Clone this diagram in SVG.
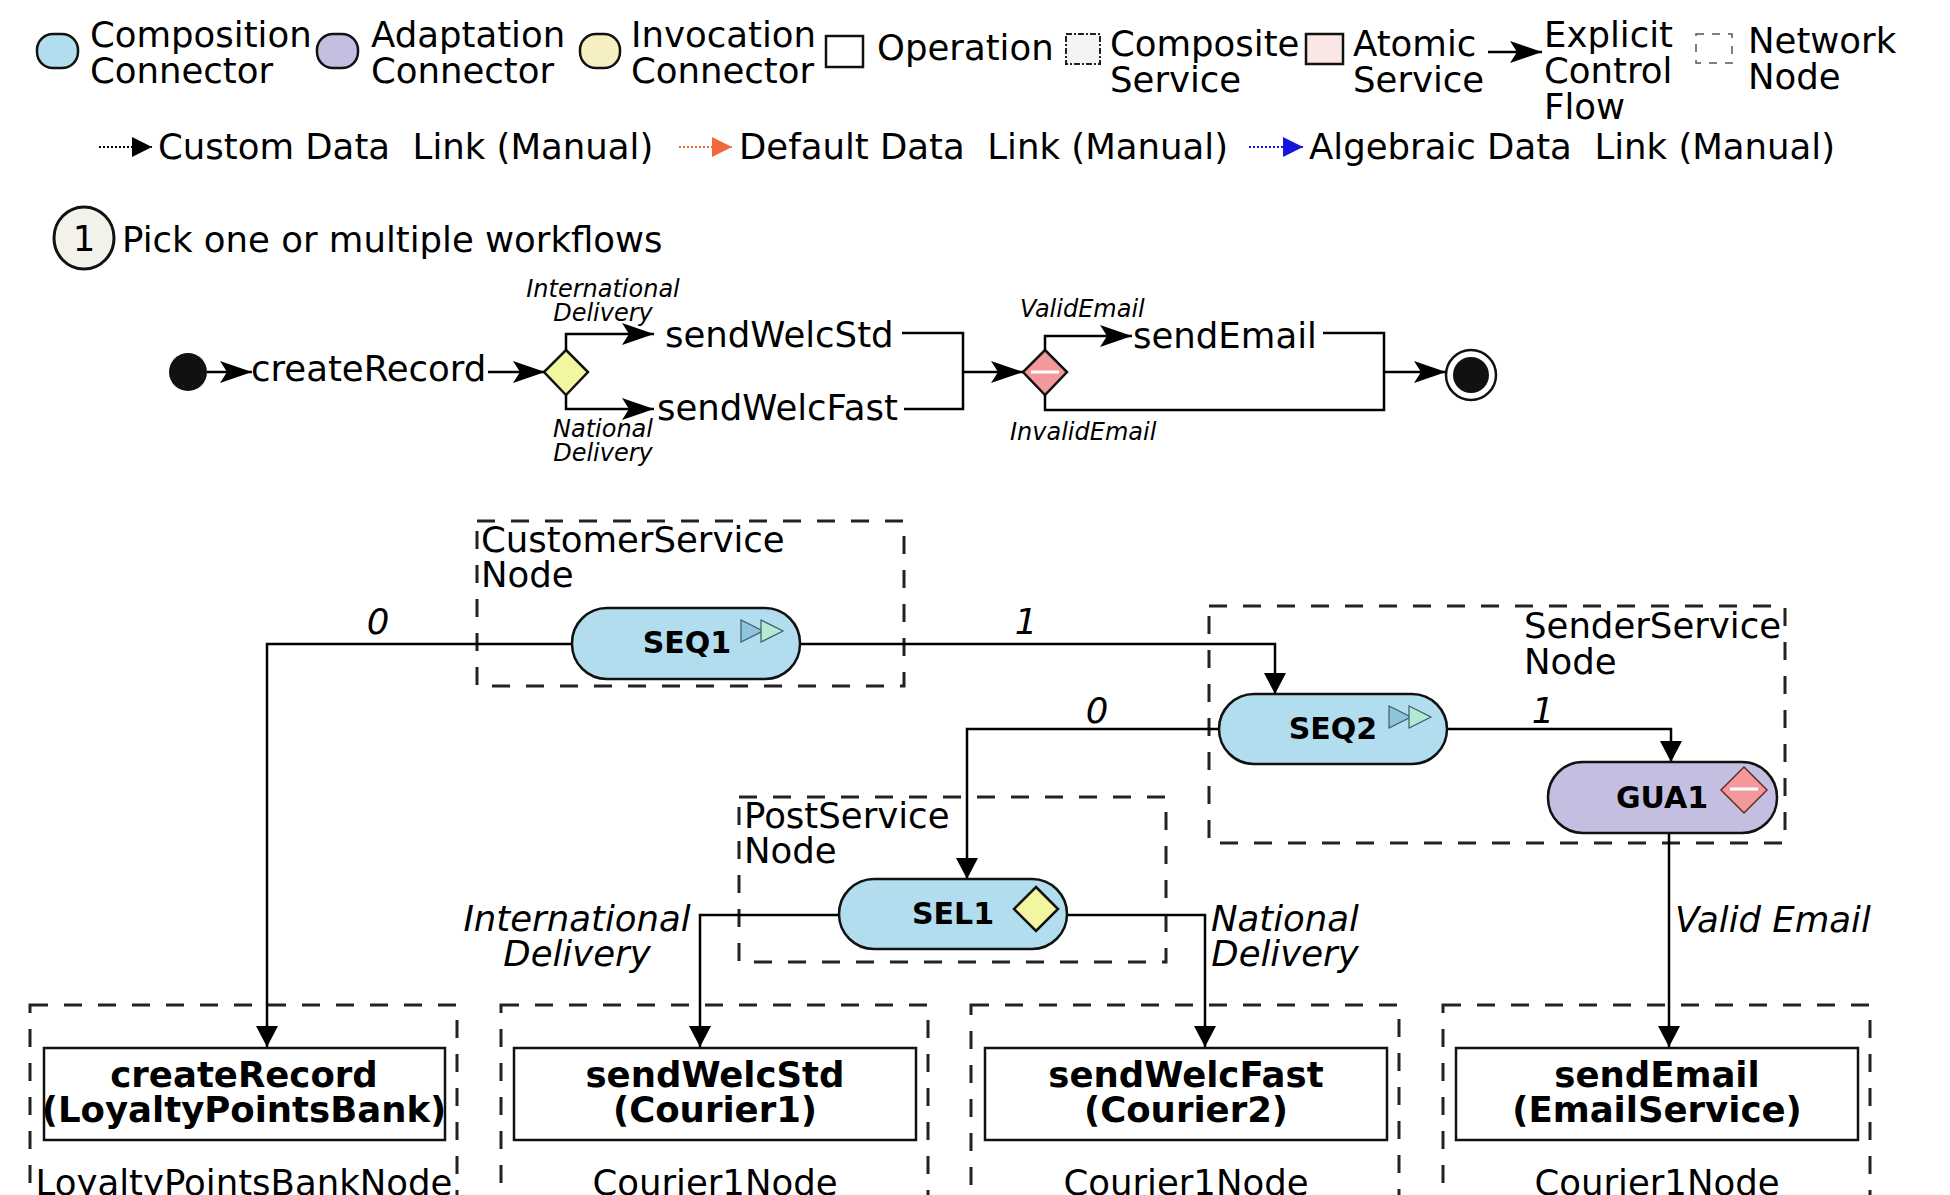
<svg xmlns="http://www.w3.org/2000/svg" width="1950" height="1195" viewBox="0 0 1950 1195">
  <style>
    text { font-family: "DejaVu Sans", "Liberation Sans", sans-serif; font-size: 35.5px; fill: #000; }
    .it { font-style: italic; }
    .small { font-size: 24px; font-style: italic; }
    .bold { font-weight: bold; }
    .pilltxt { font-weight: bold; font-size: 30px; text-anchor: middle; }
    .mid { text-anchor: middle; }
    .wire { fill: none; stroke: #000; stroke-width: 2.5; }
    .dwire { fill: none; stroke: #000; stroke-width: 2.5; marker-end: url(#dArrow); }
    .fwire { fill: none; stroke: #000; stroke-width: 2.5; marker-end: url(#flowArrow); }
    .netnode { fill: none; stroke: #222; stroke-width: 3; stroke-dasharray: 18 16; }
    .comp { fill: #b1ddef; stroke: #111; stroke-width: 2.5; }
    .adapt { fill: #c4bfe1; stroke: #111; stroke-width: 2.5; }
    .op { fill: #fff; stroke: #111; stroke-width: 2.5; }
    .sel { fill: #f1f69f; stroke: #111; stroke-width: 2.5; }
    .guard { fill: #f4999b; stroke: #111; stroke-width: 2.5; }
    .bar { stroke: #fff; stroke-width: 3; }
    .seqA { fill: #8cc5dc; stroke: #3f5a6a; stroke-width: 1.2; }
    .seqB { fill: #b3ead4; stroke: #3f5a6a; stroke-width: 1.2; }
  </style>
  <defs>
    <marker id="flowArrow" markerUnits="userSpaceOnUse" markerWidth="34" markerHeight="26" viewBox="0 -13 34 26" refX="32" refY="0" orient="auto">
      <path d="M0,-11 L32,0 L0,11 L7,0 Z" fill="#000"/>
    </marker>
    <marker id="dArrow" markerUnits="userSpaceOnUse" markerWidth="24" markerHeight="24" viewBox="0 -12 22 24" refX="21" refY="0" orient="auto">
      <path d="M0,-11 L21,0 L0,11 Z" fill="#000"/>
    </marker>
    <marker id="mkBlack" markerUnits="userSpaceOnUse" markerWidth="22" markerHeight="22" viewBox="0 -11 20 22" refX="20" refY="0" orient="auto">
      <path d="M0,-10 L20,0 L0,10 Z" fill="#000"/>
    </marker>
    <marker id="mkOrange" markerUnits="userSpaceOnUse" markerWidth="22" markerHeight="22" viewBox="0 -11 20 22" refX="20" refY="0" orient="auto">
      <path d="M0,-10 L20,0 L0,10 Z" fill="#f0693a"/>
    </marker>
    <marker id="mkBlue" markerUnits="userSpaceOnUse" markerWidth="22" markerHeight="22" viewBox="0 -11 20 22" refX="20" refY="0" orient="auto">
      <path d="M0,-10 L20,0 L0,10 Z" fill="#1616dc"/>
    </marker>
    <g id="seqIcon">
      <path class="seqA" d="M0,0 L22,11 L0,22 Z"/>
      <path class="seqB" d="M20,0 L42,11 L20,22 Z"/>
    </g>
  </defs>

  <!-- Legend -->
  <g id="legend">
    <rect class="comp" x="37" y="34" width="41" height="34" rx="16"/>
    <text x="90" y="47">Composition</text>
    <text x="90" y="83">Connector</text>

    <rect class="adapt" x="317" y="34" width="41" height="34" rx="16"/>
    <text x="371" y="47">Adaptation</text>
    <text x="371" y="83">Connector</text>

    <rect x="580" y="34" width="40" height="34" rx="16" fill="#f5efc2" stroke="#111" stroke-width="2.5"/>
    <text x="631" y="47">Invocation</text>
    <text x="631" y="83">Connector</text>

    <rect class="op" x="826" y="36" width="37" height="31"/>
    <text x="877" y="60">Operation</text>

    <rect x="1066" y="34" width="34" height="30" fill="#f2f4f6" stroke="#222" stroke-width="2" stroke-dasharray="6 2 2 2"/>
    <text x="1110" y="56">Composite</text>
    <text x="1110" y="92">Service</text>

    <rect x="1306" y="34" width="37" height="30" fill="#fbe6e6" stroke="#111" stroke-width="2.5"/>
    <text x="1353" y="56">Atomic</text>
    <text x="1353" y="92">Service</text>

    <path class="fwire" d="M1488,52 H1542"/>
    <text x="1544" y="47">Explicit</text>
    <text x="1544" y="83">Control</text>
    <text x="1544" y="119">Flow</text>

    <rect x="1696" y="34" width="36" height="29" fill="none" stroke="#555" stroke-width="1.5" stroke-dasharray="8 8"/>
    <text x="1748" y="53">Network</text>
    <text x="1748" y="89">Node</text>

    <path d="M99,147 H152" fill="none" stroke="#000" stroke-width="2" stroke-dasharray="2 2" marker-end="url(#mkBlack)"/>
    <text x="158" y="159">Custom Data&#160; Link (Manual)</text>

    <path d="M679,147 H732" fill="none" stroke="#f0693a" stroke-width="2" stroke-dasharray="2 2" marker-end="url(#mkOrange)"/>
    <text x="739" y="159">Default Data&#160; Link (Manual)</text>

    <path d="M1249,147 H1303" fill="none" stroke="#1616dc" stroke-width="2" stroke-dasharray="2 2" marker-end="url(#mkBlue)"/>
    <text x="1309" y="159">Algebraic Data&#160; Link (Manual)</text>
  </g>

  <!-- Step heading -->
  <g id="step1">
    <ellipse cx="84" cy="238" rx="30" ry="31" fill="#f2f1ea" stroke="#111" stroke-width="3"/>
    <text class="mid" x="84" y="251">1</text>
    <text x="122" y="252">Pick one or multiple workflows</text>
  </g>

  <!-- Workflow: nodes -->
  <g id="wf-start"><circle cx="188" cy="372" r="19" fill="#111"/></g>
  <g id="wf-createRecord"><text x="251" y="381">createRecord</text></g>
  <g id="wf-choice">
    <path class="sel" d="M566,350 L588,372 L566,395 L544,372 Z"/>
  </g>
  <g id="wf-sendWelcStd"><text x="665" y="347">sendWelcStd</text></g>
  <g id="wf-sendWelcFast"><text x="657" y="420">sendWelcFast</text></g>
  <g id="wf-guard">
    <path class="guard" d="M1045,350 L1067,372 L1045,395 L1023,372 Z"/>
    <line class="bar" x1="1031" y1="372" x2="1059" y2="372"/>
  </g>
  <g id="wf-sendEmail"><text x="1133" y="348">sendEmail</text></g>
  <g id="wf-end">
    <circle cx="1471" cy="375" r="25" fill="#fff" stroke="#111" stroke-width="2.5"/>
    <circle cx="1471" cy="375" r="18" fill="#111"/>
  </g>

  <!-- Workflow: control flow -->
  <g id="wf-connectors">
    <path class="fwire" d="M207,372 H252"/>
    <path class="fwire" d="M488,372 H545"/>
    <path class="fwire" d="M566,350 V334 H654"/>
    <path class="fwire" d="M566,395 V409 H654"/>
    <path class="wire" d="M902,333 H963 V409 H904"/>
    <path class="fwire" d="M963,372 H1023"/>
    <path class="fwire" d="M1045,350 V336 H1132"/>
    <path class="wire" d="M1323,333 H1384 V410 H1045 V395"/>
    <path class="fwire" d="M1384,372 H1446"/>
    <text class="small mid" x="603" y="297">International</text>
    <text class="small mid" x="603" y="321">Delivery</text>
    <text class="small mid" x="603" y="437">National</text>
    <text class="small mid" x="603" y="461">Delivery</text>
    <text class="small" x="1020" y="317">ValidEmail</text>
    <text class="small" x="1010" y="440">InvalidEmail</text>
  </g>

  <!-- Deployment: network nodes -->
  <g id="node-customerService">
    <rect class="netnode" x="477" y="521" width="427" height="165"/>
    <text x="481" y="552">CustomerService</text>
    <text x="481" y="587">Node</text>
  </g>
  <g id="node-senderService">
    <rect class="netnode" x="1209" y="606" width="576" height="237"/>
    <text x="1524" y="638">SenderService</text>
    <text x="1524" y="674">Node</text>
  </g>
  <g id="node-postService">
    <rect class="netnode" x="739" y="797" width="427" height="165"/>
    <text x="744" y="828">PostService</text>
    <text x="744" y="863">Node</text>
  </g>
  <g id="node-loyaltyPointsBank">
    <rect class="netnode" x="30" y="1005" width="427" height="240"/>
    <text class="mid" x="244" y="1195">LoyaltyPointsBankNode</text>
  </g>
  <g id="node-courier1-a">
    <rect class="netnode" x="501" y="1005" width="427" height="240"/>
    <text class="mid" x="715" y="1195">Courier1Node</text>
  </g>
  <g id="node-courier1-b">
    <rect class="netnode" x="971" y="1005" width="428" height="240"/>
    <text class="mid" x="1186" y="1195">Courier1Node</text>
  </g>
  <g id="node-courier1-c">
    <rect class="netnode" x="1443" y="1005" width="427" height="240"/>
    <text class="mid" x="1657" y="1195">Courier1Node</text>
  </g>

  <!-- Deployment: connectors -->
  <g id="connectors">
    <path class="dwire" d="M572,644 H267 V1047"/>
    <path class="dwire" d="M800,644 H1275 V694"/>
    <path class="dwire" d="M1219,729 H967 V879"/>
    <path class="dwire" d="M1447,729 H1671 V762"/>
    <path class="dwire" d="M839,915 H700 V1047"/>
    <path class="dwire" d="M1067,915 H1205 V1047"/>
    <path class="dwire" d="M1669,833 V1047"/>
    <text class="it mid" x="378" y="634">0</text>
    <text class="it mid" x="1026" y="634">1</text>
    <text class="it mid" x="1097" y="723">0</text>
    <text class="it mid" x="1543" y="723">1</text>
    <text class="it mid" x="577" y="931">International</text>
    <text class="it mid" x="577" y="966">Delivery</text>
    <text class="it mid" x="1285" y="931">National</text>
    <text class="it mid" x="1285" y="966">Delivery</text>
    <text class="it" x="1675" y="932">Valid Email</text>
  </g>

  <!-- Deployment: connectors' nodes -->
  <g id="SEQ1">
    <rect class="comp" x="572" y="608" width="228" height="71" rx="35"/>
    <text class="pilltxt" x="687" y="653">SEQ1</text>
    <use href="#seqIcon" x="741" y="620"/>
  </g>
  <g id="SEQ2">
    <rect class="comp" x="1219" y="694" width="228" height="70" rx="35"/>
    <text class="pilltxt" x="1333" y="739">SEQ2</text>
    <use href="#seqIcon" x="1389" y="706"/>
  </g>
  <g id="GUA1">
    <rect class="adapt" x="1548" y="762" width="229" height="71" rx="35"/>
    <text class="pilltxt" x="1662" y="808">GUA1</text>
    <path d="M1744,767 L1767,790 L1744,813 L1721,790 Z" fill="#f4999b" stroke="#6a2a2a" stroke-width="1.5"/>
    <line class="bar" x1="1730" y1="789" x2="1758" y2="789"/>
  </g>
  <g id="SEL1">
    <rect class="comp" x="839" y="879" width="228" height="70" rx="35"/>
    <text class="pilltxt" x="953" y="924">SEL1</text>
    <path class="sel" d="M1036,887 L1058,909 L1036,931 L1014,909 Z" stroke-width="2"/>
  </g>

  <!-- Deployment: operations -->
  <g id="op-createRecord">
    <rect class="op" x="44" y="1048" width="401" height="92"/>
    <text class="bold mid" x="244" y="1087">createRecord</text>
    <text class="bold mid" x="244" y="1122">(LoyaltyPointsBank)</text>
  </g>
  <g id="op-sendWelcStd">
    <rect class="op" x="514" y="1048" width="402" height="92"/>
    <text class="bold mid" x="715" y="1087">sendWelcStd</text>
    <text class="bold mid" x="715" y="1122">(Courier1)</text>
  </g>
  <g id="op-sendWelcFast">
    <rect class="op" x="985" y="1048" width="402" height="92"/>
    <text class="bold mid" x="1186" y="1087">sendWelcFast</text>
    <text class="bold mid" x="1186" y="1122">(Courier2)</text>
  </g>
  <g id="op-sendEmail">
    <rect class="op" x="1456" y="1048" width="402" height="92"/>
    <text class="bold mid" x="1657" y="1087">sendEmail</text>
    <text class="bold mid" x="1657" y="1122">(EmailService)</text>
  </g>
</svg>
